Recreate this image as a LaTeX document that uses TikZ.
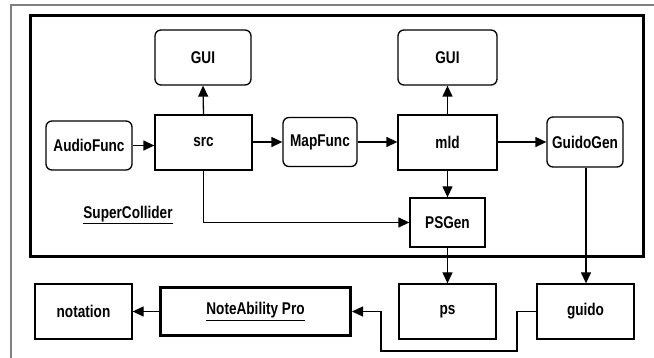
\documentclass[tikz,border=0pt]{standalone}
\usepackage{fontspec}
\setmainfont{Liberation Sans}[FakeStretch=0.8]
\usetikzlibrary{arrows.meta}
\begin{document}
\begin{tikzpicture}[x=1pt,y=-1pt,
  lbl/.style={font=\fontsize{17}{19}\selectfont\bfseries},
  box/.style={draw, line width=1.3pt, lbl, inner sep=0pt},
  rbox/.style={box, rounded corners=6pt},
  con/.style={line width=1.3pt, -{Triangle[length=11pt,width=10pt]}},
  plain/.style={line width=1.3pt}]
\useasboundingbox (0,0) rectangle (654,358);
\draw[line width=1.5pt, gray] (11,358) -- (11,5) -- (654,5);
\draw[line width=3pt] (30,16) rectangle (643,257);
% nodes
\node[rbox, minimum width=96pt, minimum height=55pt] (gui1) at (203,57.5) {GUI};
\node[box, minimum width=97pt, minimum height=55pt] (src) at (203.5,142.5) {src};
\node[rbox, minimum width=86pt, minimum height=49pt] (audio) at (89,145.5) {AudioFunc};
\node[rbox, minimum width=74pt, minimum height=49pt] (mapf) at (320,142) {MapFunc};
\node[rbox, minimum width=99pt, minimum height=55pt] (gui2) at (447.5,57.5) {GUI};
\node[box, minimum width=99pt, minimum height=55pt] (mld) at (447.5,142.5) {mld};
\node[rbox, minimum width=76pt, minimum height=50pt] (gg) at (585,142) {GuidoGen};
\node[box, minimum width=75pt, minimum height=49pt] (psgen) at (447.5,222.5) {PSGen};
\node[lbl] (sc) at (128,215) {\underline{SuperCollider}};
\node[box, minimum width=97pt, minimum height=55pt] (notation) at (83.5,311.5) {notation};
\node[box, line width=3pt, minimum width=190pt, minimum height=48pt] (nap) at (255.5,311.5) {\underline{NoteAbility Pro}};
\node[box, minimum width=97pt, minimum height=55pt] (ps) at (447.5,311.5) {ps};
\node[box, minimum width=97pt, minimum height=55pt] (guido) at (585.5,311.5) {guido};
% connectors
\draw[con] (src.north) -- (gui1.south);
\draw[con] (mld.north) -- (gui2.south);
\draw[con] (audio.east) -- (src.west |- audio.east);
\draw[con] (src.east |- mapf.west) -- (mapf.west);
\draw[con] (mapf.east) -- (mld.west |- mapf.east);
\draw[con] (mld.east |- gg.west) -- (gg.west);
\draw[con] (mld.south) -- (psgen.north);
\draw[con] (src.south) |- (psgen.west);
\draw[con] (psgen.south) -- (ps.north);
\draw[con] (gg.south -| 586,0) -- (guido.north -| 586,0);
\draw[con] (nap.west) -- (notation.east);
\coordinate (g1) at (517,311.5);
\coordinate (g2) at (381,351);
\draw[con] (guido.west) -- (g1) |- (g2) |- (nap.east);
\end{tikzpicture}
\end{document}
